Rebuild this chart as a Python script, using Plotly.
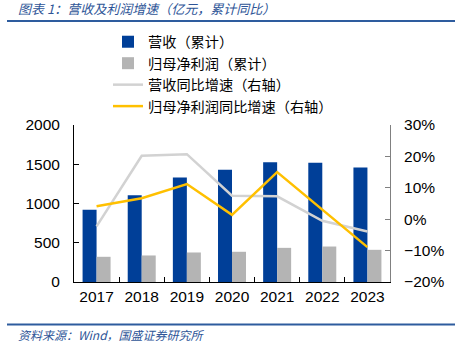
import plotly.graph_objects as go

years = ["2017", "2018", "2019", "2020", "2021", "2022", "2023"]
revenue = [921, 1104, 1332, 1429, 1527, 1518, 1459]
net_profit = [321, 338, 376, 385, 435, 452, 410]
revenue_yoy = [-2.3, 20.2, 20.7, 7.5, 7.3, -0.5, -3.9]
profit_yoy = [4.1, 6.7, 11.2, 1.4, 15.0, 3.2, -8.9]

FONT = "Liberation Sans, Arial, Noto Sans CJK SC, sans-serif"
CJK = "Noto Sans CJK SC, Liberation Sans, sans-serif"

L, R, T, B = 74, 390, 125, 282
W, H = R - L, B - T

def px(x):
    return (x - L) / W

def py(y):
    return (B - y) / H

fig = go.Figure()
fig.add_trace(go.Bar(x=years, y=revenue, name="营收（累计）", marker=dict(color="#003F98", line=dict(width=0))))
fig.add_trace(go.Bar(x=years, y=net_profit, name="归母净利润（累计）", marker=dict(color="#B4B4B4", line=dict(width=0))))
fig.add_trace(go.Scatter(x=years, y=revenue_yoy, name="营收同比增速（右轴）", mode="lines",
                         line=dict(color="#D2D2D2", width=2.5), yaxis="y2"))
fig.add_trace(go.Scatter(x=years, y=profit_yoy, name="归母净利润同比增速（右轴）", mode="lines",
                         line=dict(color="#FFC000", width=2.5), yaxis="y2"))

fig.update_layout(
    width=460, height=358,
    margin=dict(l=L, r=460 - R, t=T, b=358 - B, autoexpand=False),
    paper_bgcolor="white", plot_bgcolor="white",
    barmode="group", bargap=0.38, bargroupgap=0,
    font=dict(family=FONT, size=15.5, color="black"),
    showlegend=True,
    legend=dict(x=px(108), y=py(26), xanchor="left", yanchor="top", traceorder="normal",
                font=dict(family=CJK, size=14.2, color="black"), itemwidth=30,
                tracegroupgap=0, bgcolor="rgba(0,0,0,0)"),
    xaxis=dict(type="category", showline=True, linecolor="black", linewidth=1,
               ticks="inside", ticklen=5, tickson="boundaries", tickcolor="black",
               showgrid=False, tickfont=dict(size=15.5)),
    yaxis=dict(range=[0, 2000], dtick=500, showline=True, linecolor="black", linewidth=1,
               ticks="inside", ticklen=5, tickcolor="black", showgrid=False, zeroline=False,
               tickfont=dict(size=15.5), ticklabelstandoff=10),
    yaxis2=dict(range=[-20, 30], dtick=10, overlaying="y", side="right", showline=True,
                linecolor="#808080", linewidth=1, ticks="inside", ticklen=5, tickcolor="#808080",
                showgrid=False, zeroline=False, ticksuffix="%", tickfont=dict(size=15.5),
                ticklabelstandoff=10),
)

fig.add_annotation(text="<i>图表 1：营收及利润增速（亿元，累计同比）</i>", xref="paper", yref="paper",
                   x=px(16), y=py(9), xanchor="left", yanchor="middle",
                   showarrow=False, font=dict(family=CJK, size=13, color="#2E5597"))
fig.add_shape(type="line", xref="paper", yref="paper", x0=px(7), x1=px(455),
              y0=py(21), y1=py(21), line=dict(color="#2E5C9E", width=2))
fig.add_shape(type="line", xref="paper", yref="paper", x0=px(7), x1=px(455),
              y0=py(324.5), y1=py(324.5), line=dict(color="#2E5C9E", width=2))
fig.add_annotation(text="<i>资料来源：Wind，国盛证券研究所</i>", xref="paper", yref="paper",
                   x=px(16), y=py(334), xanchor="left", yanchor="middle",
                   showarrow=False, font=dict(family=CJK, size=12, color="#2E5597"))

fig.write_html("out.html", config={"displayModeBar": False},
               post_script="document.body.style.margin='0';document.body.style.padding='0';")
